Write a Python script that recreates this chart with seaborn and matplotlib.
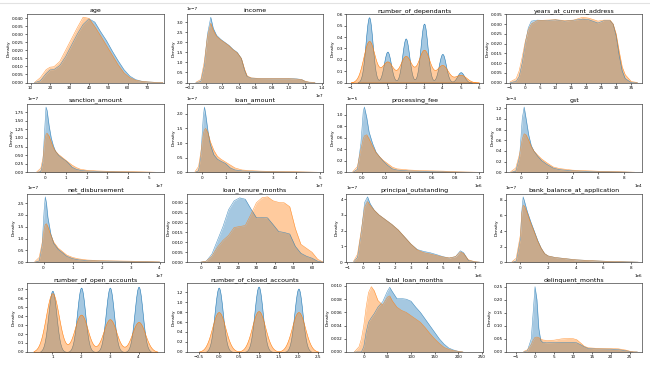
import matplotlib
matplotlib.use("Agg")
import matplotlib.pyplot as plt
import seaborn as sns
import numpy as np
from matplotlib.ticker import MultipleLocator

BLUE = "#1f77b4"
ORANGE = "#ff7f0e"

# --- continuous columns: x grid + density (blue / orange) ---
age_x = [12, 15, 18, 20, 22, 25, 28, 31, 34, 37, 40, 43, 46, 49, 52, 55, 58, 61, 64, 67, 70, 74, 78]
age_blue = [0, 0.001, 0.0055, 0.0078, 0.008, 0.0105, 0.016, 0.023, 0.030, 0.036, 0.0395, 0.0375, 0.0315,
            0.026, 0.0195, 0.0135, 0.008, 0.004, 0.0018, 0.0008, 0.0004, 0.0001, 0]
age_orange = [0, 0.003, 0.008, 0.0095, 0.0098, 0.013, 0.020, 0.027, 0.034, 0.0405, 0.0398, 0.0347, 0.029,
              0.023, 0.017, 0.011, 0.006, 0.003, 0.0014, 0.0008, 0.0004, 0.0001, 0]

income_x = [-0.12, -0.06, -0.02, 0.02, 0.06, 0.09, 0.13, 0.18, 0.23, 0.28, 0.33, 0.38, 0.43, 0.47, 0.5,
            0.55, 0.65, 0.8, 1.0, 1.1, 1.16, 1.2, 1.25, 1.32]
income_blue = [0, 0.05, 0.8, 2.4, 3.25, 2.7, 2.35, 2.15, 2.0, 1.85, 1.65, 1.5, 1.2, 0.6, 0.3,
               0.22, 0.2, 0.2, 0.2, 0.18, 0.15, 0.06, 0.01, 0]
income_orange = [0.01, 0.15, 1.0, 2.3, 2.95, 2.6, 2.3, 2.12, 1.98, 1.83, 1.63, 1.48, 1.2, 0.65, 0.33,
                 0.23, 0.2, 0.19, 0.19, 0.17, 0.14, 0.07, 0.02, 0.002]

years_x = [-5, -3, -2, -1, 0, 1, 2, 4, 7, 10, 13, 16, 19, 21, 24, 26, 28, 29, 30, 31, 32, 33, 35, 37]
years_blue = [0, 0.0005, 0.003, 0.010, 0.020, 0.028, 0.0315, 0.032, 0.0318, 0.0322, 0.0315, 0.032, 0.0325,
              0.0322, 0.0305, 0.0318, 0.0318, 0.030, 0.024, 0.014, 0.006, 0.002, 0, 0]
years_orange = [0.0003, 0.002, 0.006, 0.013, 0.021, 0.027, 0.030, 0.0318, 0.032, 0.0322, 0.0318, 0.032, 0.0335,
                0.033, 0.0315, 0.032, 0.032, 0.030, 0.025, 0.016, 0.008, 0.004, 0.0005, 0]

sanction_x = [-0.4, -0.2, -0.1, 0, 0.05, 0.1, 0.2, 0.3, 0.4, 0.5, 0.65, 0.8, 1.0, 1.15, 1.3, 1.5, 1.7,
              2.0, 2.5, 3.0, 3.5, 4.0, 4.5, 5.0, 5.3]
sanction_blue = [0, 0.02, 0.3, 1.4, 1.9, 1.8, 1.35, 1.0, 0.78, 0.62, 0.5, 0.42, 0.34, 0.25, 0.15, 0.09, 0.06,
                 0.04, 0.03, 0.02, 0.015, 0.01, 0.005, 0.002, 0]
sanction_orange = [0.01, 0.12, 0.4, 0.95, 1.1, 1.14, 1.05, 0.88, 0.72, 0.62, 0.52, 0.45, 0.35, 0.28, 0.21,
                   0.14, 0.09, 0.06, 0.04, 0.03, 0.025, 0.02, 0.015, 0.008, 0.002]

loan_x = [-0.3, -0.15, -0.05, 0.05, 0.1, 0.15, 0.25, 0.35, 0.5, 0.65, 0.8, 1.0, 1.2, 1.4, 1.7, 2.0, 2.5,
          3.0, 3.5, 4.0, 4.5, 4.9]
loan_blue = [0, 0.05, 0.6, 1.9, 2.23, 2.0, 1.4, 0.95, 0.6, 0.45, 0.38, 0.3, 0.15, 0.08, 0.05, 0.04, 0.03,
             0.02, 0.015, 0.01, 0.005, 0]
loan_orange = [0.02, 0.2, 0.7, 1.3, 1.45, 1.5, 1.35, 1.05, 0.75, 0.55, 0.45, 0.35, 0.25, 0.15, 0.08, 0.06,
               0.04, 0.03, 0.025, 0.02, 0.01, 0.003]

fee_x = [-0.08, -0.04, -0.01, 0.01, 0.02, 0.04, 0.06, 0.09, 0.12, 0.15, 0.18, 0.22, 0.26, 0.3, 0.4, 0.5,
         0.6, 0.7, 0.8, 0.9, 1.0]
fee_blue = [0, 0.05, 0.5, 1.05, 1.13, 0.95, 0.7, 0.5, 0.35, 0.27, 0.2, 0.12, 0.06, 0.04, 0.025, 0.02,
            0.015, 0.01, 0.005, 0.002, 0]
fee_orange = [0.01, 0.1, 0.4, 0.58, 0.63, 0.65, 0.58, 0.45, 0.34, 0.27, 0.21, 0.15, 0.09, 0.06, 0.04, 0.03,
              0.025, 0.02, 0.01, 0.005, 0.001]

gst_x = [-0.8, -0.4, -0.1, 0.1, 0.25, 0.4, 0.6, 0.8, 1.0, 1.3, 1.6, 2.0, 2.5, 3.0, 4.0, 5.0, 6.0, 7.0, 8.0, 8.8]
gst_blue = [0, 0.02, 0.3, 1.0, 1.22, 1.0, 0.7, 0.5, 0.4, 0.3, 0.22, 0.15, 0.08, 0.05, 0.03, 0.02, 0.015,
            0.01, 0.005, 0]
gst_orange = [0.01, 0.08, 0.35, 0.62, 0.72, 0.7, 0.6, 0.48, 0.4, 0.32, 0.25, 0.18, 0.1, 0.07, 0.04, 0.03,
              0.02, 0.015, 0.008, 0.002]

net_x = [-0.3, -0.15, -0.05, 0.02, 0.06, 0.1, 0.15, 0.25, 0.35, 0.5, 0.65, 0.8, 1.0, 1.2, 1.5, 2.0, 2.5,
         3.0, 3.5, 4.0]
net_blue = [0, 0.05, 0.7, 2.2, 2.77, 2.5, 1.9, 1.2, 0.8, 0.55, 0.4, 0.25, 0.15, 0.1, 0.07, 0.05, 0.04,
            0.03, 0.02, 0.005]
net_orange = [0.02, 0.2, 0.8, 1.4, 1.6, 1.63, 1.5, 1.15, 0.85, 0.6, 0.45, 0.3, 0.2, 0.14, 0.09, 0.06, 0.05,
              0.04, 0.025, 0.01]

tenure_x = [0, 3, 6, 9, 12, 15, 18, 21, 24, 27, 30, 33, 36, 39, 42, 45, 48, 51, 54, 57, 60, 63, 66]
tenure_blue = [0, 0.0005, 0.004, 0.011, 0.018, 0.0265, 0.031, 0.0325, 0.0318, 0.027, 0.0225, 0.0226, 0.0224,
               0.019, 0.0155, 0.015, 0.0142, 0.008, 0.0045, 0.003, 0.002, 0.0005, 0]
tenure_orange = [0, 0.0005, 0.003, 0.0075, 0.011, 0.0135, 0.0175, 0.018, 0.0185, 0.024, 0.030, 0.0325, 0.033,
                 0.031, 0.0302, 0.030, 0.028, 0.017, 0.009, 0.007, 0.005, 0.0015, 0]

principal_x = [-0.6, -0.35, -0.1, 0.1, 0.28, 0.45, 0.7, 1.0, 1.4, 1.8, 2.2, 2.6, 3.0, 3.4, 3.8, 4.2, 4.6,
               5.0, 5.4, 5.8, 6.1, 6.3, 6.6, 7.0, 7.3]
principal_blue = [0, 0.3, 2.0, 3.8, 4.15, 3.7, 3.3, 3.0, 2.7, 2.4, 2.05, 1.6, 1.15, 0.8, 0.68, 0.6, 0.48,
                  0.35, 0.26, 0.35, 0.72, 0.6, 0.12, 0.02, 0]
principal_orange = [0.05, 0.5, 2.1, 3.5, 3.85, 3.6, 3.3, 3.0, 2.7, 2.4, 2.05, 1.6, 1.15, 0.78, 0.6, 0.52, 0.42,
                    0.33, 0.27, 0.35, 0.65, 0.55, 0.15, 0.03, 0]

bank_x = [-0.6, -0.3, 0, 0.1, 0.2, 0.3, 0.5, 0.75, 1.0, 1.25, 1.5, 1.75, 2.0, 2.5, 3, 3.5, 4, 5, 6, 7, 8, 8.5]
bank_blue = [0, 0.1, 3.0, 6.5, 8.4, 7.8, 6.5, 5.2, 4.0, 2.8, 1.8, 1.1, 0.8, 0.6, 0.5, 0.4, 0.3, 0.2, 0.12,
             0.07, 0.03, 0]
bank_orange = [0.05, 0.5, 3.5, 6.3, 7.3, 7.2, 6.3, 5.0, 3.9, 2.7, 1.8, 1.1, 0.8, 0.6, 0.5, 0.4, 0.3, 0.2, 0.12,
               0.06, 0.02, 0]

tlm_x = [-20, -10, -5, 0, 5, 10, 16, 22, 30, 40, 50, 55, 60, 70, 80, 90, 100, 110, 120, 130, 140, 150, 160,
         170, 180, 190, 200, 210]
tlm_blue = [0, 0, 0, 0.0008, 0.003, 0.0045, 0.0052, 0.0058, 0.0068, 0.0076, 0.0092, 0.0098, 0.0092, 0.0081,
            0.0081, 0.0080, 0.0077, 0.0068, 0.0060, 0.0050, 0.0040, 0.0030, 0.0020, 0.0012, 0.0006, 0.0003,
            0.0001, 0]
tlm_orange = [0, 0.0008, 0.002, 0.004, 0.0068, 0.009, 0.0099, 0.0093, 0.0078, 0.0071, 0.0083, 0.0085, 0.0078,
              0.0068, 0.0063, 0.0060, 0.0055, 0.0050, 0.0045, 0.0037, 0.0028, 0.0020, 0.0013, 0.0007, 0.0004,
              0.0002, 0.0001, 0]

delinq_x = [-3, -2, -1, -0.5, 0, 0.5, 1, 1.5, 2, 3, 5, 7, 9, 10, 11, 12, 13, 14, 16, 20, 22, 24, 25, 26, 27]
delinq_blue = [0, 0.005, 0.05, 0.15, 0.25, 0.2, 0.09, 0.045, 0.037, 0.035, 0.036, 0.037, 0.037, 0.037, 0.035,
               0.028, 0.02, 0.014, 0.012, 0.011, 0.009, 0.005, 0.002, 0, 0]
delinq_orange = [0.002, 0.008, 0.028, 0.045, 0.056, 0.057, 0.055, 0.05, 0.046, 0.044, 0.045, 0.05, 0.052, 0.051,
                 0.047, 0.035, 0.022, 0.016, 0.014, 0.013, 0.012, 0.007, 0.003, 0.0005, 0]

# --- count columns: category values + relative share (peak height) ---
dep_vals = [0, 1, 2, 3, 4, 5]
dep_blue = [0.57, 0.27, 0.385, 0.515, 0.25, 0.09]
dep_orange = [0.37, 0.185, 0.235, 0.29, 0.155, 0.068]

open_vals = [1, 2, 3, 4]
open_blue = [0.685, 0.72, 0.72, 0.73]
open_orange = [0.645, 0.41, 0.36, 0.33]

closed_vals = [0, 1, 2]
closed_blue = [1.29, 1.31, 1.27]
closed_orange = [0.80, 0.82, 0.80]


def bw_factor(vals, w, sd):
    # turn a kernel sd into the scipy bw factor (weighted std, unbiased like scipy)
    v = np.asarray(vals, float)
    p = np.asarray(w, float) / np.sum(w)
    m = np.sum(p * v)
    var = np.sum(p * (v - m) ** 2) / (1 - np.sum(p ** 2))
    return sd / np.sqrt(var)


def draw_curve(ax, x, y, color, xs=1.0, ys=1.0):
    x = np.asarray(x) * xs
    y = np.asarray(y) * ys
    ax.fill_between(x, y, color=color, alpha=0.4, linewidth=0)
    sns.lineplot(x=x, y=y, color=color, linewidth=0.4, alpha=0.75, ax=ax, sort=False)


def draw_counts(ax, vals, w, sd, color):
    sns.kdeplot(x=vals, weights=w, bw_method=bw_factor(vals, w, sd), fill=True,
                color=color, alpha=0.4, linewidth=0.4, ax=ax)


# title, data, x scale, y scale, xlim
continuous = {
    (0, 0): ("age", age_x, age_blue, age_orange, 1, 1, (8.3, 78.4)),
    (0, 1): ("income", income_x, income_blue, income_orange, 1e7, 1e-7, (-0.23e7, 1.42e7)),
    (0, 3): ("years_at_current_address", years_x, years_blue, years_orange, 1, 1, (-6.4, 38.6)),
    (1, 0): ("sanction_amount", sanction_x, sanction_blue, sanction_orange, 1e7, 1e-7, (-0.85e7, 5.7e7)),
    (1, 1): ("loan_amount", loan_x, loan_blue, loan_orange, 1e7, 1e-7, (-0.65e7, 5.15e7)),
    (1, 2): ("processing_fee", fee_x, fee_blue, fee_orange, 1e6, 1e-5, (-0.135e6, 1.035e6)),
    (1, 3): ("gst", gst_x, gst_blue, gst_orange, 1e4, 1e-4, (-1.17e4, 9.4e4)),
    (2, 0): ("net_disbursement", net_x, net_blue, net_orange, 1e7, 1e-7, (-0.56e7, 4.14e7)),
    (2, 1): ("loan_tenure_months", tenure_x, tenure_blue, tenure_orange, 1, 1, (-7.5, 66)),
    (2, 2): ("principal_outstanding", principal_x, principal_blue, principal_orange, 1e6, 1e-7, (-1.05e6, 7.5e6)),
    (2, 3): ("bank_balance_at_application", bank_x, bank_blue, bank_orange, 1e6, 1e-7, (-1.05e6, 8.8e6)),
    (3, 2): ("total_loan_months", tlm_x, tlm_blue, tlm_orange, 1, 1, (-37, 252)),
    (3, 3): ("delinquent_months", delinq_x, delinq_blue, delinq_orange, 1, 1, (-7.7, 28.3)),
}

counts = {
    (0, 2): ("number_of_dependants", dep_vals, dep_blue, dep_orange, 0.19, 0.31, (-1.24, 6.2)),
    (3, 0): ("number_of_open_accounts", open_vals, open_blue, open_orange, 0.14, 0.225, None),
    (3, 1): ("number_of_closed_accounts", closed_vals, closed_blue, closed_orange, 0.103, 0.165, (-0.8, 2.62)),
}

fig = plt.figure(figsize=(6.5, 3.67), dpi=100)
axes = fig.subplots(4, 4)
fig.subplots_adjust(left=0.042, right=0.988, bottom=0.041, top=0.962, wspace=0.17, hspace=0.31)

for (r, c), (title, x, b, o, xs, ys, xlim) in continuous.items():
    ax = axes[r, c]
    draw_curve(ax, x, b, BLUE, xs, ys)
    draw_curve(ax, x, o, ORANGE, xs, ys)
    ax.set_title(title)
    ax.set_xlim(xlim)
    if xs != 1:
        ax.ticklabel_format(axis="both", style="sci", scilimits=(0, 0))

for (r, c), (title, vals, b, o, sd_b, sd_o, xlim) in counts.items():
    ax = axes[r, c]
    draw_counts(ax, vals, b, sd_b, BLUE)
    draw_counts(ax, vals, o, sd_o, ORANGE)
    ax.set_title(title)
    if xlim:
        ax.set_xlim(xlim)

axes[0, 0].yaxis.set_major_locator(MultipleLocator(0.005))

for ax in axes.flat:
    ax.set_ylim(bottom=0)
    ax.set_title(ax.get_title(), fontsize=4.5, pad=1.5)
    ax.set_xlabel("")
    ax.set_ylabel("Density", fontsize=3.2, labelpad=1)
    ax.tick_params(labelsize=3, length=1.5, width=0.4, pad=1)
    ax.xaxis.get_offset_text().set_fontsize(3)
    ax.yaxis.get_offset_text().set_fontsize(3)
    for s in ax.spines.values():
        s.set_linewidth(0.5)
        s.set_color("#444444")

fig.add_artist(plt.Line2D([0, 1], [0.992, 0.992], color="#e2e2e2", lw=0.8, transform=fig.transFigure))

fig.savefig("out.png", dpi=100)
